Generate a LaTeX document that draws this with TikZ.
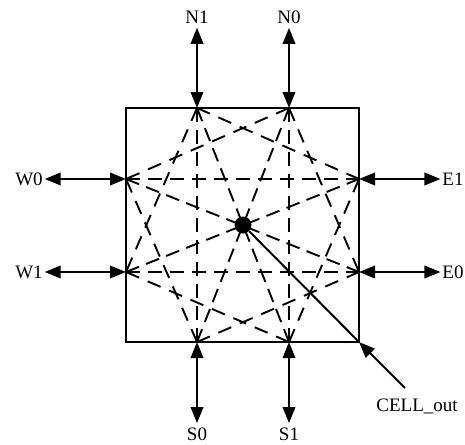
\documentclass[tikz,border=0pt]{standalone}
\usepackage{fontspec}
\setmainfont{Liberation Serif}
\usetikzlibrary{arrows.meta}
\tikzset{
  wire/.style={line width=2pt,{Triangle[length=16pt,width=12.5pt]}-{Triangle[length=16pt,width=12.5pt]}},
  straightlink/.style={line width=2pt,dash pattern=on 14pt off 8pt},
  throughlink/.style={line width=1.9pt,dash pattern=on 14pt off 7.6pt},
  starlink/.style={line width=1.9pt,dash pattern=on 14pt off 9.3pt},
  port/.style={font=\fontsize{19}{22}\selectfont,inner xsep=2pt,inner ysep=4.5pt,outer sep=0pt}
}
\begin{document}
\begin{tikzpicture}[x=1pt,y=-1pt]
\useasboundingbox (0,0) rectangle (465,444);
\coordinate (boxnw) at (126,108);
\coordinate (boxse) at (359,342);
\coordinate (pN1) at (197,108);
\coordinate (pN0) at (289,108);
\coordinate (pW0) at (126,179);
\coordinate (pW1) at (126,272);
\coordinate (pE1) at (359,179);
\coordinate (pE0) at (359,272);
\coordinate (pS0) at (197,342);
\coordinate (pS1) at (289,342);
\coordinate (outend) at (405,388);
\node[port] (N1) at (197,17) {N1};
\node[port] (N0) at (289,17) {N0};
\node[port] (W0) at (29,179) {W0};
\node[port] (W1) at (29,272) {W1};
\node[port] (E1) at (453,179) {E1};
\node[port] (E0) at (453,272) {E0};
\node[port] (S0) at (197,434) {S0};
\node[port] (S1) at (289,434) {S1};
\node[port] (cellout) at (417,406) {CELL\_out};
\draw[line width=2pt] (boxnw) rectangle (boxse);
% crossbar links
\foreach \a/\b in {pW0/pE1,pW1/pE0,pN1/pS0,pN0/pS1}
  \draw[straightlink] (\a) -- (\b);
\foreach \a/\b in {pN1/pS1,pN0/pS0,pW0/pE0,pW1/pE1}
  \draw[throughlink] (\a) -- (\b);
\foreach \a/\b in {pN1/pE1,pN1/pW1,pN0/pW0,pN0/pE0,pS0/pW0,pS0/pE0,pS1/pW1,pS1/pE1}
  \draw[starlink] (\a) -- (\b);
\foreach \a/\b in {pN1/N1,pN0/N0,pW0/W0,pW1/W1,pE1/E1,pE0/E0,pS0/S0,pS1/S1}
  \draw[wire] (\a) -- (\b);
\node[circle,fill=black,inner sep=0pt,minimum size=17pt] (hub) at (243,225) {};
\draw[line width=2pt] (hub) -- (boxse);
\draw[line width=2pt,-{Triangle[length=16pt,width=12.5pt]}] (outend) -- (boxse);
\end{tikzpicture}
\end{document}
